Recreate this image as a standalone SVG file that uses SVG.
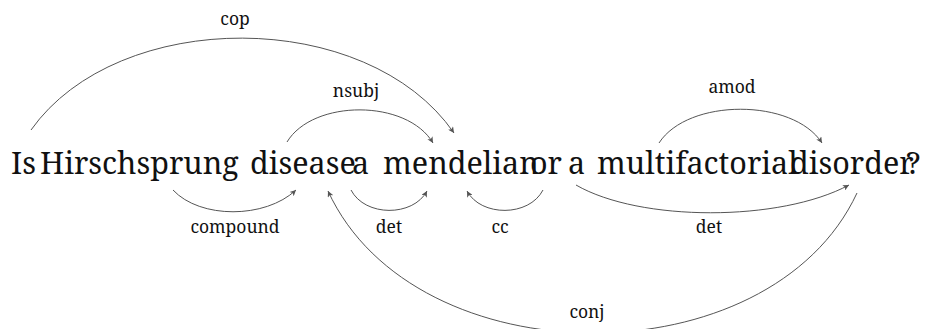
<svg xmlns="http://www.w3.org/2000/svg" width="928" height="329" viewBox="0 0 928 329">
  <defs>
    <marker id="head" viewBox="0 0 10 10" refX="10" refY="5" markerWidth="7" markerHeight="6" markerUnits="userSpaceOnUse" orient="auto">
      <path d="M0,0 L10,5 L0,10 L2.5,5 z" fill="#555"/>
    </marker>
  </defs>

  <!-- tokens -->
  <g id="w-is"><text font-family="Noto Serif" font-size="30.5" fill="#111" x="11" y="174">Is</text></g>
  <g id="w-hirschsprung"><text font-family="Noto Serif" font-size="30.5" fill="#111" x="40" y="174">Hirschsprung</text></g>
  <g id="w-disease"><text font-family="Noto Serif" font-size="30.5" fill="#111" x="250" y="174">disease</text></g>
  <g id="w-a1"><text font-family="Noto Serif" font-size="30.5" fill="#111" x="352" y="174">a</text></g>
  <g id="w-mendelian"><text font-family="Noto Serif" font-size="30.5" fill="#111" x="383" y="174">mendelian</text></g>
  <g id="w-or"><text font-family="Noto Serif" font-size="30.5" fill="#111" x="530" y="174">or</text></g>
  <g id="w-a2"><text font-family="Noto Serif" font-size="30.5" fill="#111" x="568" y="174">a</text></g>
  <g id="w-multifactorial"><text font-family="Noto Serif" font-size="30.5" fill="#111" x="597" y="174">multifactorial</text></g>
  <g id="w-disorder"><text font-family="Noto Serif" font-size="30.5" fill="#111" x="790" y="174">disorder</text></g>
  <g id="w-q"><text font-family="Noto Serif" font-size="30.5" fill="#111" x="906" y="174">?</text></g>

  <!-- dependency arcs and their relation labels -->
  <g id="arcs" fill="none" stroke="#555" stroke-width="1" marker-end="url(#head)">
    <path d="M31,130 C118,7 367,7 454,133"/>
    <path d="M287,142 C313,99 407,99 433,143"/>
    <path d="M659,143 C688,98 793,98 822,143"/>
    <path d="M173,190 C200,219 265,219 296,190"/>
    <path d="M351,190 C365,217 413,217 427,191"/>
    <path d="M543,190 C529,217 481,217 467,191"/>
    <path d="M576,185 C640,222 780,222 849,185"/>
    <path d="M857,193 C770,380 415,380 328,191"/>
  </g>
  <g id="arc-labels">
    <text font-family="Noto Serif" font-size="17.5" fill="#111" text-anchor="middle" x="235" y="25">cop</text>
    <text font-family="Noto Serif" font-size="17.5" fill="#111" text-anchor="middle" x="356" y="97">nsubj</text>
    <text font-family="Noto Serif" font-size="17.5" fill="#111" text-anchor="middle" x="732" y="93">amod</text>
    <text font-family="Noto Serif" font-size="17.5" fill="#111" text-anchor="middle" x="235" y="233">compound</text>
    <text font-family="Noto Serif" font-size="17.5" fill="#111" text-anchor="middle" x="389" y="233">det</text>
    <text font-family="Noto Serif" font-size="17.5" fill="#111" text-anchor="middle" x="500" y="233">cc</text>
    <text font-family="Noto Serif" font-size="17.5" fill="#111" text-anchor="middle" x="709" y="233">det</text>
    <text font-family="Noto Serif" font-size="17.5" fill="#111" text-anchor="middle" x="587" y="318">conj</text>
  </g>
</svg>
